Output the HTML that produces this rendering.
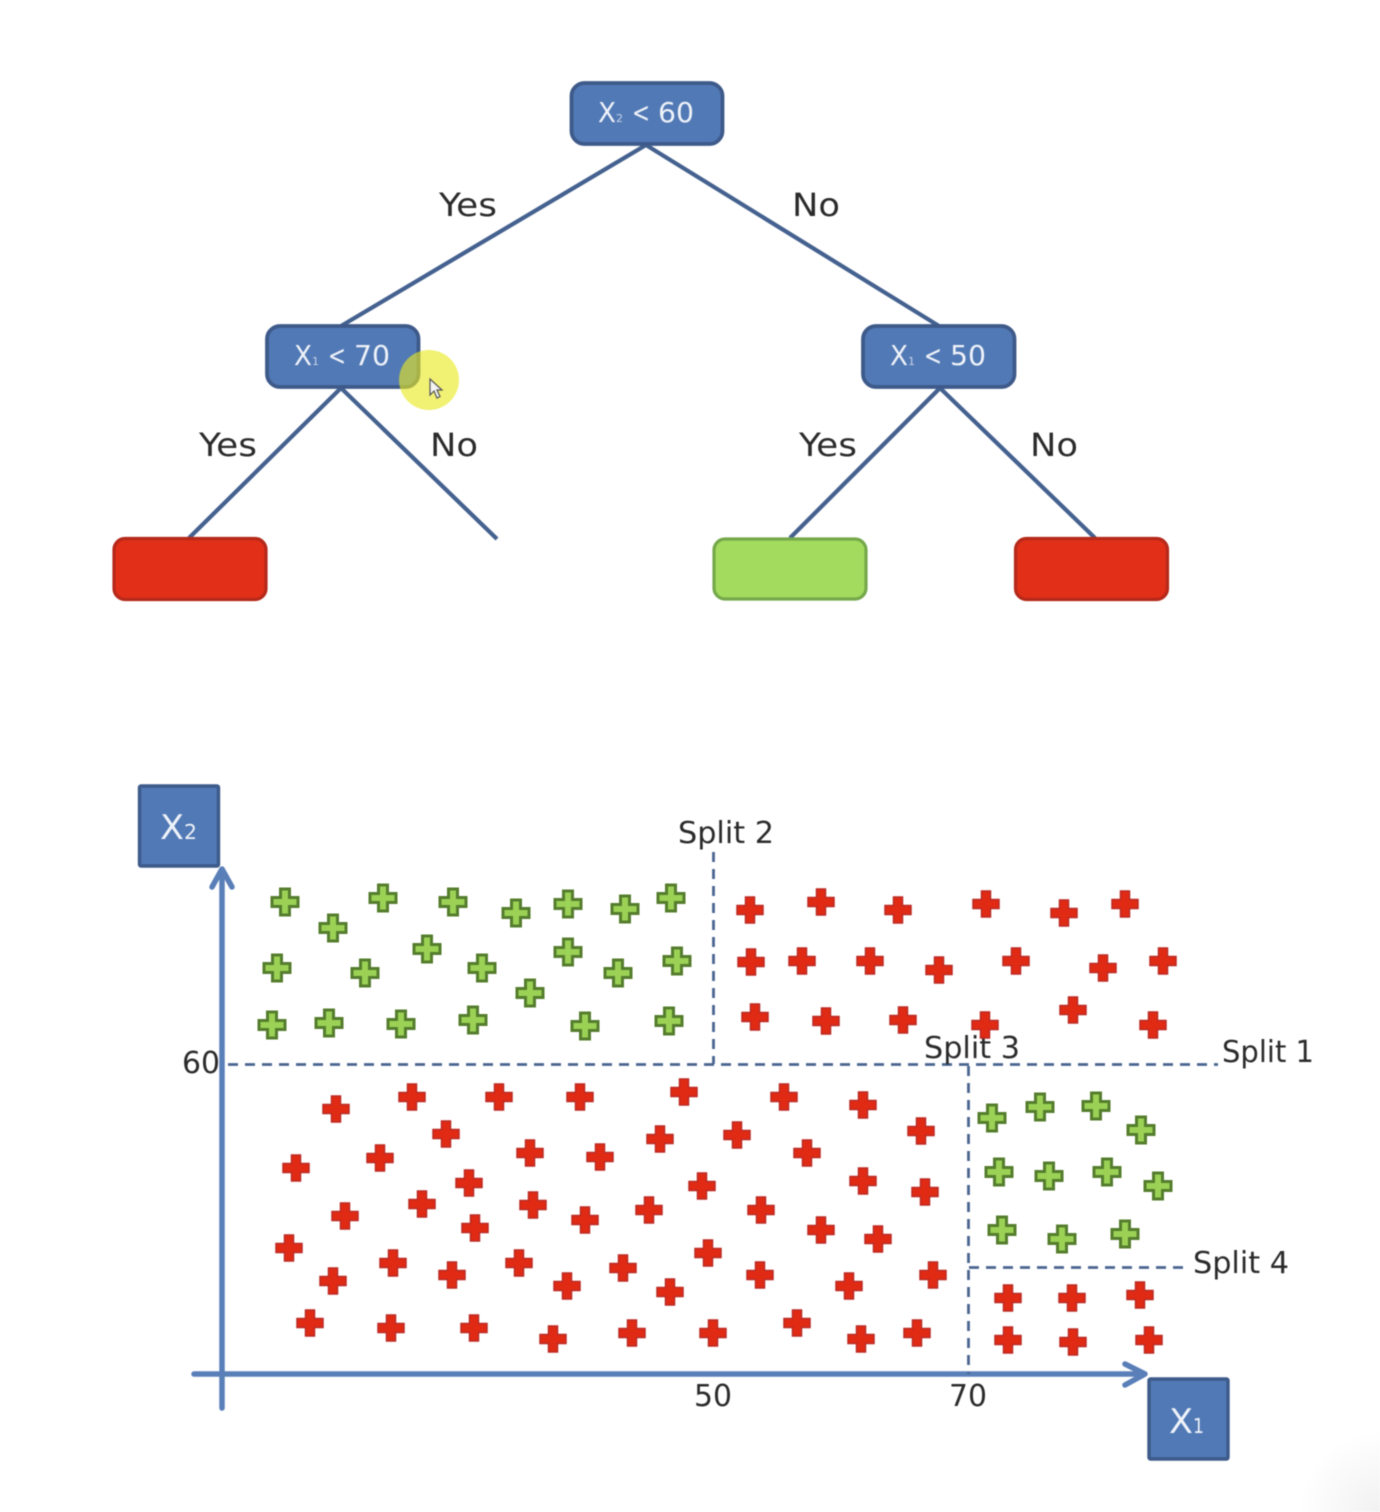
<!DOCTYPE html>
<html>
<head>
<meta charset="utf-8">
<style>
html,body{margin:0;padding:0;background:#fff;width:1380px;height:1512px;overflow:hidden}
svg{display:block;filter:blur(0.45px)}
text{font-family:"DejaVu Sans","Liberation Sans",sans-serif}
.lb{font-size:32px;fill:#2b2b2b}
.w{fill:#eef2f9;font-size:28px}
.s{fill:#c5d3e8;font-size:11px}
.dash{stroke:#4a6490;stroke-width:2.800;stroke-dasharray:10 7;fill:none}
</style>
</head>
<body>
<svg width="1380" height="1512" viewBox="0 0 1380 1512" xmlns="http://www.w3.org/2000/svg">
<defs>
<path id="p" d="M-4.500 -13H4.500V-4.500H13V4.500H4.500V13H-4.500V4.500H-13V-4.500H-4.500Z"/>
<radialGradient id="c" cx="1" cy="1" r="1">
<stop offset="0" stop-color="#f1f1f1"/><stop offset="1" stop-color="#ffffff"/>
</radialGradient>
</defs>
<rect width="1380" height="1512" fill="#fff"/>
<rect x="1300" y="1432" width="80" height="80" fill="url(#c)"/>

<g stroke="#44618f" stroke-width="4.200" fill="none">
<line x1="646" y1="145" x2="341" y2="326"/>
<line x1="646" y1="145" x2="939" y2="326"/>
<line x1="341" y1="388" x2="189" y2="538"/>
<line x1="341" y1="388" x2="497" y2="539"/>
<line x1="940" y1="388" x2="790" y2="538"/>
<line x1="940" y1="388" x2="1095" y2="538"/>
</g>

<g stroke="#3d5a8a" stroke-width="3.800" fill="#5179b5">
<rect x="571.500" y="83" width="151" height="61" rx="13"/>
<rect x="267" y="326" width="151.500" height="61" rx="13"/>
<rect x="863" y="326" width="151.500" height="61" rx="13"/>
</g>
<rect x="114" y="538.500" width="152" height="61" rx="11" fill="#e12f18" stroke="#b5291a" stroke-width="3.200"/>
<rect x="714" y="539" width="152" height="60" rx="11" fill="#a3db5f" stroke="#75a84a" stroke-width="3.200"/>
<rect x="1015.500" y="538.500" width="152" height="61" rx="11" fill="#e12f18" stroke="#b5291a" stroke-width="3.200"/>

<text class="w" x="598" y="122" textLength="18" lengthAdjust="spacingAndGlyphs">X</text>
<text class="s" x="616" y="122">2</text>
<text class="w" x="632" y="122" textLength="18" lengthAdjust="spacingAndGlyphs">&lt;</text>
<text class="w" x="658" y="122" textLength="36" lengthAdjust="spacingAndGlyphs">60</text>
<text class="w" x="294" y="365" textLength="18" lengthAdjust="spacingAndGlyphs">X</text>
<text class="s" x="312" y="365">1</text>
<text class="w" x="328" y="365" textLength="18" lengthAdjust="spacingAndGlyphs">&lt;</text>
<text class="w" x="354" y="365" textLength="36" lengthAdjust="spacingAndGlyphs">70</text>
<text class="w" x="890" y="365" textLength="18" lengthAdjust="spacingAndGlyphs">X</text>
<text class="s" x="908" y="365">1</text>
<text class="w" x="924" y="365" textLength="18" lengthAdjust="spacingAndGlyphs">&lt;</text>
<text class="w" x="950" y="365" textLength="36" lengthAdjust="spacingAndGlyphs">50</text>

<text class="lb" x="439" y="216" textLength="58" lengthAdjust="spacingAndGlyphs">Yes</text>
<text class="lb" x="792" y="216" textLength="48" lengthAdjust="spacingAndGlyphs">No</text>
<text class="lb" x="199" y="456" textLength="58" lengthAdjust="spacingAndGlyphs">Yes</text>
<text class="lb" x="430" y="456" textLength="48" lengthAdjust="spacingAndGlyphs">No</text>
<text class="lb" x="799" y="456" textLength="58" lengthAdjust="spacingAndGlyphs">Yes</text>
<text class="lb" x="1030" y="456" textLength="48" lengthAdjust="spacingAndGlyphs">No</text>

<circle cx="429" cy="380" r="30" fill="#e8e81e" fill-opacity="0.62"/>
<path d="M430 379V395L434 391L437 398L440 396.500L437 390H442Z" fill="#f4f4f4" stroke="#555" stroke-width="1.200"/>

<g stroke="#5a7fb8" stroke-width="5.500" fill="none" stroke-linecap="round" stroke-linejoin="round">
<line x1="222" y1="870" x2="222" y2="1408"/>
<line x1="194" y1="1374" x2="1143" y2="1374"/>
<polyline points="212,887 222,869 232,887"/>
<polyline points="1125,1364 1145,1374 1125,1385"/>
</g>

<g class="dash">
<line class="dash" x1="228" y1="1064.500" x2="1218" y2="1064.500"/>
<line class="dash" x1="713.500" y1="852" x2="713.500" y2="1064"/>
<line class="dash" x1="968.500" y1="1066" x2="968.500" y2="1374"/>
<line class="dash" x1="969" y1="1267.500" x2="1186" y2="1267.500"/>
</g>

<rect x="139.500" y="786" width="79" height="80" rx="1.500" fill="#5179b5" stroke="#3d5a8a" stroke-width="3.400"/>
<rect x="1149" y="1379" width="79" height="80" rx="1.500" fill="#5179b5" stroke="#3d5a8a" stroke-width="3.400"/>
<text class="w" x="160" y="839" style="font-size:34px" textLength="24" lengthAdjust="spacingAndGlyphs">X</text>
<text class="w" x="184" y="839" style="font-size:20px" textLength="13" lengthAdjust="spacingAndGlyphs">2</text>
<text class="w" x="1169" y="1433" style="font-size:34px" textLength="24" lengthAdjust="spacingAndGlyphs">X</text>
<text class="w" x="1193" y="1433" style="font-size:20px" textLength="11" lengthAdjust="spacingAndGlyphs">1</text>

<text class="lb" x="678" y="843" textLength="96" lengthAdjust="spacingAndGlyphs" style="font-size:30px">Split 2</text>
<text class="lb" x="924" y="1058" textLength="96" lengthAdjust="spacingAndGlyphs" style="font-size:30px">Split 3</text>
<text class="lb" x="1222" y="1062" textLength="92" lengthAdjust="spacingAndGlyphs" style="font-size:30px">Split 1</text>
<text class="lb" x="1193" y="1273" textLength="96" lengthAdjust="spacingAndGlyphs" style="font-size:30px">Split 4</text>
<text class="lb" x="182" y="1073" textLength="38" lengthAdjust="spacingAndGlyphs" style="font-size:30px">60</text>
<text class="lb" x="694" y="1406" textLength="38" lengthAdjust="spacingAndGlyphs" style="font-size:30px">50</text>
<text class="lb" x="949" y="1406" textLength="38" lengthAdjust="spacingAndGlyphs" style="font-size:30px">70</text>

<g fill="#9bd255" stroke="#557d2e" stroke-width="3">
<use href="#p" x="285" y="902"/><use href="#p" x="333" y="928"/><use href="#p" x="383" y="898"/><use href="#p" x="453" y="902"/><use href="#p" x="516" y="913"/><use href="#p" x="568" y="904"/><use href="#p" x="625" y="909"/><use href="#p" x="671" y="898"/>
<use href="#p" x="277" y="968"/><use href="#p" x="365" y="973"/><use href="#p" x="427" y="949"/><use href="#p" x="482" y="968"/><use href="#p" x="568" y="952"/><use href="#p" x="618" y="973"/><use href="#p" x="677" y="961"/><use href="#p" x="530" y="993"/>
<use href="#p" x="272" y="1025"/><use href="#p" x="329" y="1023"/><use href="#p" x="401" y="1024"/><use href="#p" x="473" y="1020"/><use href="#p" x="585" y="1026"/><use href="#p" x="669" y="1021"/>
<use href="#p" x="992" y="1118"/><use href="#p" x="1040" y="1107"/><use href="#p" x="1096" y="1106"/><use href="#p" x="1141" y="1130"/><use href="#p" x="999" y="1172"/><use href="#p" x="1049" y="1176"/><use href="#p" x="1107" y="1172"/><use href="#p" x="1158" y="1186"/><use href="#p" x="1002" y="1230"/><use href="#p" x="1062" y="1239"/><use href="#p" x="1125" y="1234"/>
</g>

<g fill="#e02a14" stroke="#bb2a24" stroke-width="1.500">
<use href="#p" x="750" y="910"/><use href="#p" x="821" y="902"/><use href="#p" x="898" y="910"/><use href="#p" x="986" y="904"/><use href="#p" x="1064" y="913"/><use href="#p" x="1125" y="904"/>
<use href="#p" x="751" y="962"/><use href="#p" x="802" y="961"/><use href="#p" x="870" y="961"/><use href="#p" x="939" y="970"/><use href="#p" x="1016" y="961"/><use href="#p" x="1103" y="968"/><use href="#p" x="1163" y="961"/>
<use href="#p" x="755" y="1017"/><use href="#p" x="826" y="1021"/><use href="#p" x="903" y="1020"/><use href="#p" x="985" y="1025"/><use href="#p" x="1073" y="1010"/><use href="#p" x="1153" y="1025"/>
<use href="#p" x="1008" y="1298"/><use href="#p" x="1072" y="1298"/><use href="#p" x="1140" y="1295"/><use href="#p" x="1008" y="1340"/><use href="#p" x="1073" y="1342"/><use href="#p" x="1149" y="1340"/>
<use href="#p" x="336" y="1109"/><use href="#p" x="412" y="1097"/><use href="#p" x="499" y="1097"/><use href="#p" x="580" y="1097"/><use href="#p" x="684" y="1092"/><use href="#p" x="784" y="1097"/><use href="#p" x="863" y="1105"/><use href="#p" x="921" y="1131"/>
<use href="#p" x="446" y="1134"/><use href="#p" x="660" y="1139"/><use href="#p" x="737" y="1135"/><use href="#p" x="296" y="1168"/><use href="#p" x="380" y="1158"/><use href="#p" x="530" y="1153"/><use href="#p" x="600" y="1157"/><use href="#p" x="807" y="1153"/>
<use href="#p" x="469" y="1183"/><use href="#p" x="702" y="1186"/><use href="#p" x="863" y="1181"/><use href="#p" x="925" y="1192"/><use href="#p" x="345" y="1216"/><use href="#p" x="422" y="1204"/><use href="#p" x="533" y="1205"/><use href="#p" x="585" y="1220"/><use href="#p" x="649" y="1210"/><use href="#p" x="761" y="1210"/>
<use href="#p" x="475" y="1228"/><use href="#p" x="821" y="1230"/><use href="#p" x="878" y="1239"/><use href="#p" x="289" y="1248"/><use href="#p" x="393" y="1263"/><use href="#p" x="519" y="1263"/><use href="#p" x="708" y="1253"/>
<use href="#p" x="333" y="1281"/><use href="#p" x="452" y="1275"/><use href="#p" x="567" y="1286"/><use href="#p" x="623" y="1268"/><use href="#p" x="670" y="1292"/><use href="#p" x="760" y="1275"/><use href="#p" x="849" y="1286"/><use href="#p" x="933" y="1275"/>
<use href="#p" x="310" y="1323"/><use href="#p" x="391" y="1328"/><use href="#p" x="474" y="1328"/><use href="#p" x="553" y="1339"/><use href="#p" x="632" y="1333"/><use href="#p" x="713" y="1333"/><use href="#p" x="797" y="1323"/><use href="#p" x="861" y="1339"/><use href="#p" x="917" y="1333"/>
</g>
</svg>
</body>
</html>
